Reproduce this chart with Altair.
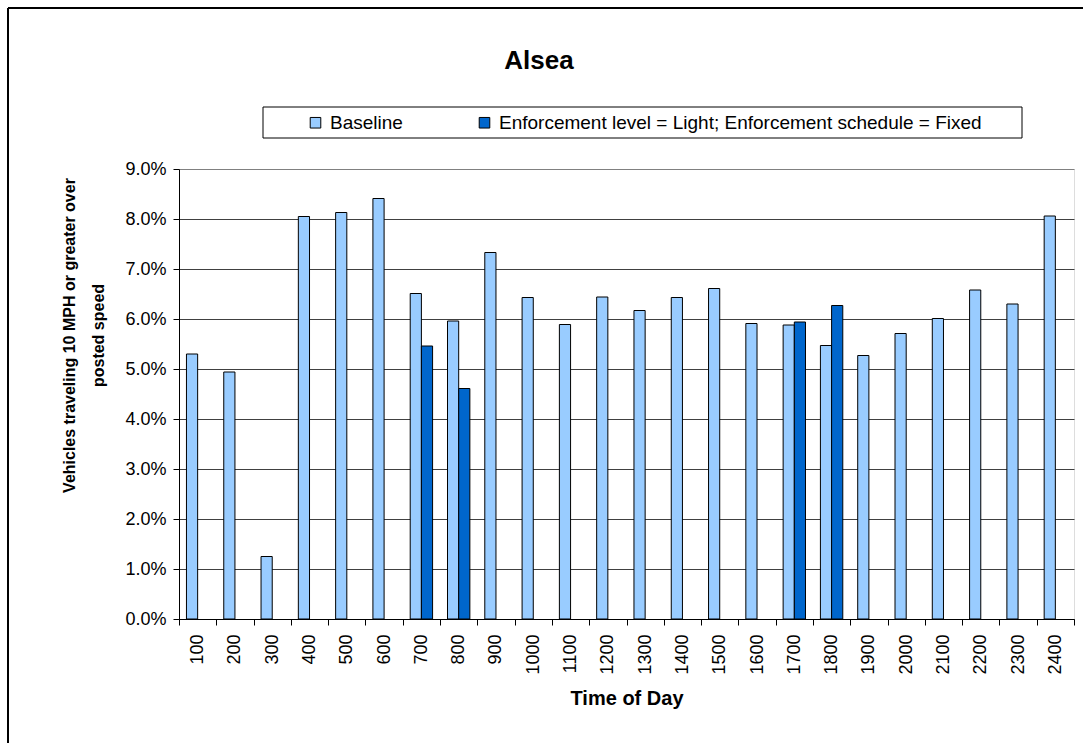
import altair as alt
import pandas as pd

# Hour of day (24h clock, hundreds)
times = [100, 200, 300, 400, 500, 600, 700, 800, 900, 1000, 1100, 1200,
         1300, 1400, 1500, 1600, 1700, 1800, 1900, 2000, 2100, 2200, 2300, 2400]

# Share of vehicles 10+ MPH over the posted speed, in percent
baseline = [5.30, 4.94, 1.25, 8.05, 8.13, 8.41, 6.51, 5.96, 7.33, 6.43, 5.89, 6.44,
            6.17, 6.43, 6.61, 5.91, 5.88, 5.47, 5.27, 5.71, 6.01, 6.58, 6.30, 8.06]

# Hours observed under light, fixed-schedule enforcement
enf_times = [700, 800, 1700, 1800]
enf_values = [5.46, 4.61, 5.94, 6.27]

series_names = ["Baseline", "Enforcement level = Light; Enforcement schedule = Fixed"]
series_colors = ["#99CCFF", "#0066CC"]
y_ticks = [0.0, 0.01, 0.02, 0.03, 0.04, 0.05, 0.06, 0.07, 0.08, 0.09]

rows = [{"time": str(t), "series": series_names[0], "value": v / 100} for t, v in zip(times, baseline)]
rows += [{"time": str(t), "series": series_names[1], "value": v / 100} for t, v in zip(enf_times, enf_values)]
df = pd.DataFrame(rows)
time_order = [str(t) for t in times]

W, H = 895, 450

bars = alt.Chart(df).mark_bar(stroke="black", strokeWidth=1).encode(
    x=alt.X("time:O", sort=time_order,
            scale=alt.Scale(domain=time_order, paddingInner=0, paddingOuter=0),
            axis=alt.Axis(title="Time of Day", labelAngle=270, labelFontSize=18,
                          labelColor="black", labelPadding=9, tickBand="extent",
                          tickSize=6, tickColor="black", domainColor="black",
                          titleFontSize=20, titleFontWeight="bold", titleColor="black",
                          titleBaseline="alphabetic", titleY=85, grid=False)),
    xOffset=alt.XOffset("series:N", sort=series_names,
                        scale=alt.Scale(domain=series_names, paddingInner=0, paddingOuter=0.667)),
    y=alt.Y("value:Q",
            scale=alt.Scale(domain=[0, 0.09], nice=False),
            axis=alt.Axis(values=y_ticks, format=".1%", labelFontSize=18, labelColor="black",
                          labelPadding=7, tickSize=6, tickColor="black", domainColor="black",
                          gridColor=alt.condition("datum.value >= 0.09", alt.value("#808080"), alt.value("#404040")),
                          title=["Vehicles traveling 10 MPH or greater over", "posted speed"],
                          titleFontSize=16, titleFontWeight="bold", titleColor="black",
                          titleAngle=270, titleAlign="center", titleBaseline="alphabetic",
                          titleX=-105, titleY=166, titleLineHeight=29)),
    color=alt.Color("series:N", sort=series_names,
                    scale=alt.Scale(domain=series_names, range=series_colors),
                    legend=alt.Legend(title=None, orient="none", direction="horizontal",
                                      legendX=84, legendY=-62, padding=6,
                                      symbolType="square", symbolSize=112,
                                      symbolStrokeColor="black", symbolStrokeWidth=1,
                                      symbolOffset=37, labelOffset=5, columnPadding=35,
                                      labelFontSize=19, labelColor="black", labelLimit=900)),
)

# Boxed legend background
legend_box = alt.Chart(pd.DataFrame({"k": [0]})).mark_rect(
    fill="white", stroke="black", strokeWidth=1).encode(
    x=alt.value(84), x2=alt.value(843), y=alt.value(-62), y2=alt.value(-31))

title_df = pd.DataFrame({"label": ["Alsea"]})
title = alt.Chart(title_df).mark_text(fontSize=26, fontWeight="bold", color="black",
                                      align="center", baseline="middle").encode(
    text="label:N", x=alt.value(360), y=alt.value(-108))

frame_df = pd.DataFrame({"k": [0]})
frame_top = alt.Chart(frame_df).mark_rule(color="black", strokeWidth=2).encode(
    x=alt.value(-171), x2=alt.value(904), y=alt.value(-161))
frame_left = alt.Chart(frame_df).mark_rule(color="black", strokeWidth=2).encode(
    x=alt.value(-171), y=alt.value(-161), y2=alt.value(574))

chart = alt.layer(frame_top, frame_left, title, legend_box, bars).properties(
    width=W, height=H,
    padding={"left": 7, "top": 7, "right": 0, "bottom": 0},
    background="white",
).configure_view(stroke="#808080", strokeWidth=1).configure(font="Liberation Sans")

chart.save("out.html", embed_options={"renderer": "svg", "actions": False})
